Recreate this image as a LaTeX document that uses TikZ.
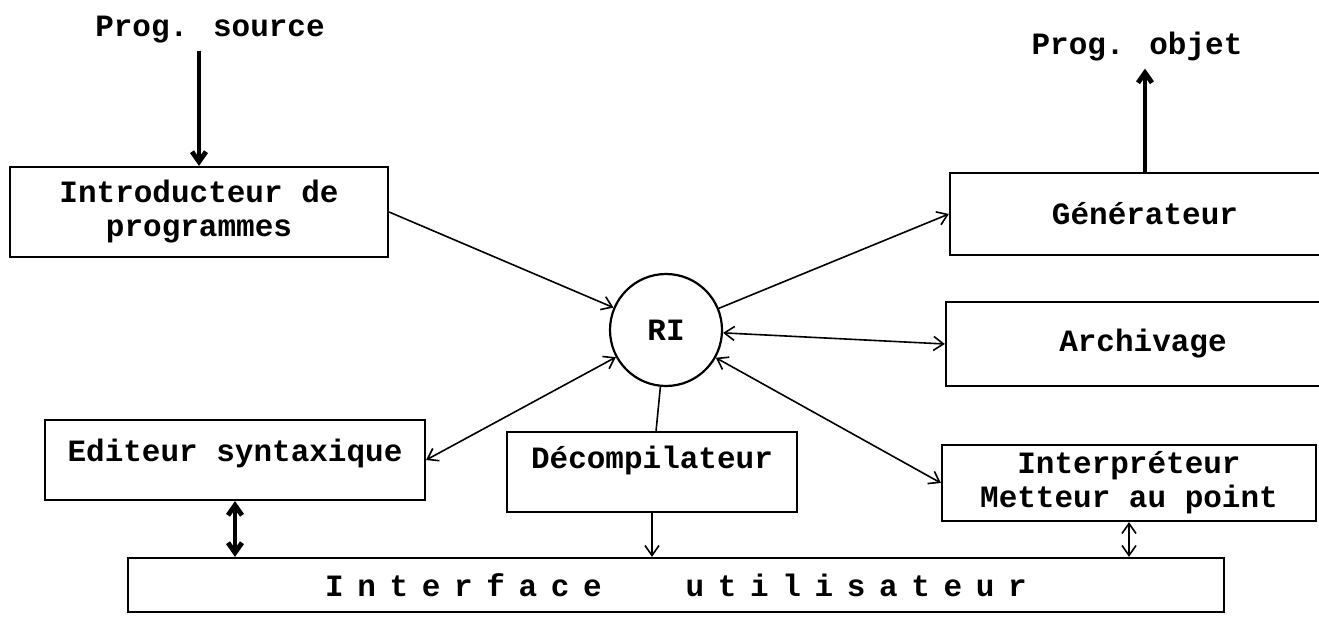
\documentclass[tikz,border=0pt]{standalone}
\usepackage{fontspec}
\newfontfamily\typewr{Liberation Mono}
\usetikzlibrary{arrows.meta}
\begin{document}
\begin{tikzpicture}[x=0.5pt, y=-0.5pt,
   >={Straight Barb[length=5pt,width=7pt]},
   every node/.style={font=\typewr\bfseries\fontsize{15.5}{17}\selectfont},
   box/.style={draw, line width=1.1pt, rectangle, align=center, inner sep=0pt},
   ri/.style={draw, line width=1.1pt, circle, minimum size=56pt, inner sep=0pt},
   link/.style={line width=0.8pt},
   heavy/.style={line width=2.4pt}]
\useasboundingbox (0,0) rectangle (1319,620);

\node (src) at (210,30) {Prog. source};
\node (obj) at (1137,47) {Prog. objet};
\node[box, minimum width=189pt, minimum height=45pt] (intro) at (199,212) {Introducteur de\\programmes};
\node[box, minimum width=195pt, minimum height=41pt] (gen) at (1145,214) {Générateur};
\node[box, minimum width=197pt, minimum height=42pt] (arch) at (1143,344) {Archivage};
\node[ri] (ri) at (666,330) {RI};
\node[box, minimum width=190pt, minimum height=40pt, text depth=10pt] (edit) at (235,460) {Editeur syntaxique};
\node[box, minimum width=145pt, minimum height=40pt, text depth=15pt] (decomp) at (652,472) {Décompilateur};
\node[box, minimum width=187pt, minimum height=38pt] (interp) at (1129,483) {Interpréteur\\Metteur au point};
\node[box, minimum width=548pt, minimum height=27pt] (iface) at (676,585)
   {\addfontfeature{LetterSpace=44}Interface\hspace{42pt}utilisateur};

% entree et sortie
\draw[heavy, ->] (intro.north |- src.south) -- (intro.north);
\draw[heavy, ->] (gen.north) -- (gen.north |- obj.south);

% autour de la RI
\draw[link, ->] (intro.east) -- (ri);
\draw[link, ->] (ri) -- (gen.west);
\draw[link, <->] (ri) -- (arch.west);
\draw[link, <->] (ri) -- (edit.east);
\draw[link] (ri) -- (decomp);
\draw[link, <->] (ri) -- (interp.west);

% vers l'interface
\draw[link, ->] (decomp) -- (decomp |- iface.north);
\draw[heavy, <->] (edit.south) -- (edit.south |- iface.north);
\draw[link, <->] (interp.south) -- (interp.south |- iface.north);
\end{tikzpicture}
\end{document}
